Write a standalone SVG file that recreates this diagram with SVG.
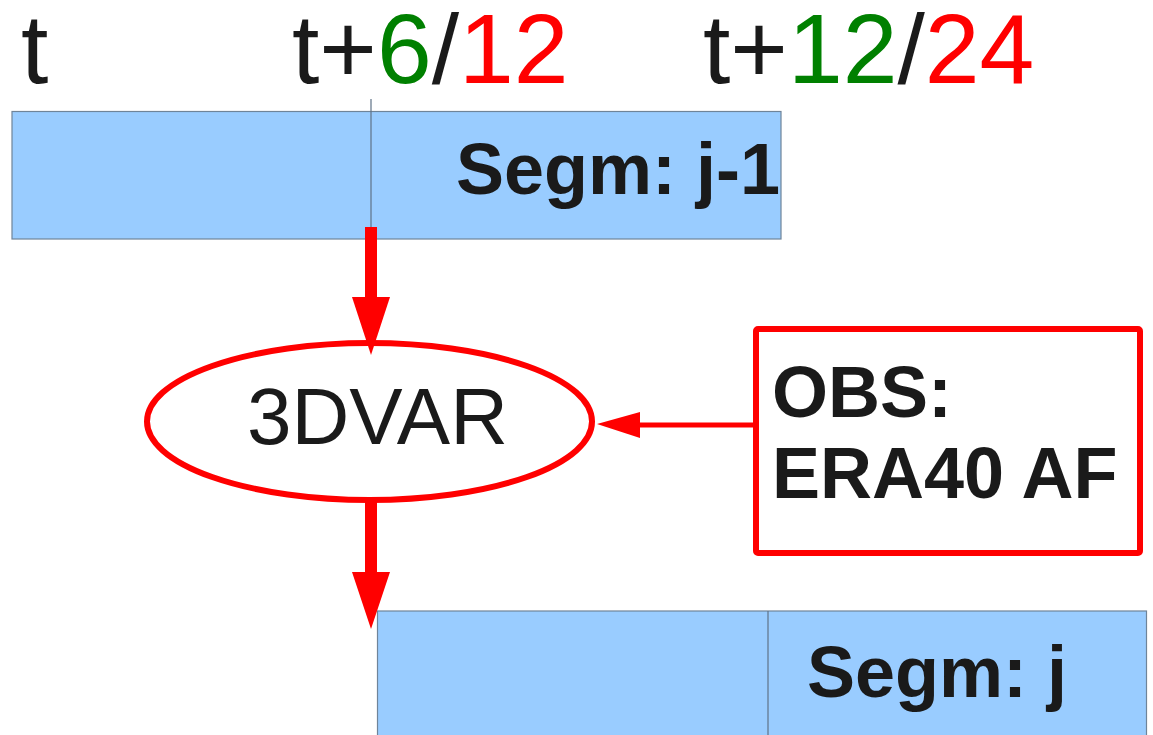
<svg xmlns="http://www.w3.org/2000/svg" width="1153" height="735" viewBox="0 0 1153 735">
  <style>
    .lbl { font-family: "Liberation Sans", Arial, sans-serif; fill: #1a1a1a; }
    .bold { font-weight: bold; }
    .seg { fill: #99ccff; stroke: #6f8499; stroke-width: 1.2; }
    .div { stroke: #5f7287; stroke-width: 1.2; fill: none; }
    .red { stroke: #ff0000; fill: none; }
    .head { fill: #ff0000; }
  </style>

  <!-- time axis labels -->
  <g id="time-labels" class="lbl" font-size="98.5">
    <text x="21" y="83">t</text>
    <text x="292" y="83">t+<tspan fill="#008000">6</tspan>/<tspan fill="#ff0000">12</tspan></text>
    <text x="703" y="83">t+<tspan fill="#008000">12</tspan>/<tspan fill="#ff0000">24</tspan></text>
  </g>

  <!-- previous segment -->
  <g id="segment-prev">
    <rect class="seg" x="12" y="111.5" width="769" height="127.5"/>
    <line class="div" x1="371" y1="99" x2="371" y2="239"/>
    <text class="lbl bold" x="456" y="194" font-size="72">Segm: j-1</text>
  </g>

  <!-- next segment -->
  <g id="segment-next">
    <rect class="seg" x="377.5" y="611" width="769" height="160"/>
    <line class="div" x1="768" y1="611" x2="768" y2="740"/>
    <text class="lbl bold" x="807" y="697" font-size="72">Segm: j</text>
  </g>

  <!-- analysis step -->
  <g id="node-3dvar">
    <ellipse class="red" cx="369.5" cy="421.5" rx="222.5" ry="78.5" stroke-width="6"/>
    <text class="lbl" x="377.5" y="444" font-size="80" text-anchor="middle">3DVAR</text>
  </g>

  <!-- observations -->
  <g id="node-obs">
    <rect class="red" x="756" y="329" width="384" height="224" rx="2" stroke-width="6"/>
    <text class="lbl bold" x="772" y="417" font-size="72">OBS:</text>
    <text class="lbl bold" x="772" y="498" font-size="72">ERA40 AF</text>
  </g>

  <!-- connectors -->
  <g id="connectors">
    <!-- segment j-1 to 3DVAR -->
    <rect class="head" x="365" y="227" width="12" height="72"/>
    <polygon class="head" points="352,297 390,297 371,355"/>
    <!-- 3DVAR to segment j -->
    <rect class="head" x="365" y="500" width="12" height="74"/>
    <polygon class="head" points="352,572 390,572 371,629"/>
    <!-- observations to 3DVAR -->
    <line class="red" x1="638" y1="425" x2="756" y2="425" stroke-width="5"/>
    <polygon class="head" points="597,424 640,412 640,438"/>
  </g>
</svg>
